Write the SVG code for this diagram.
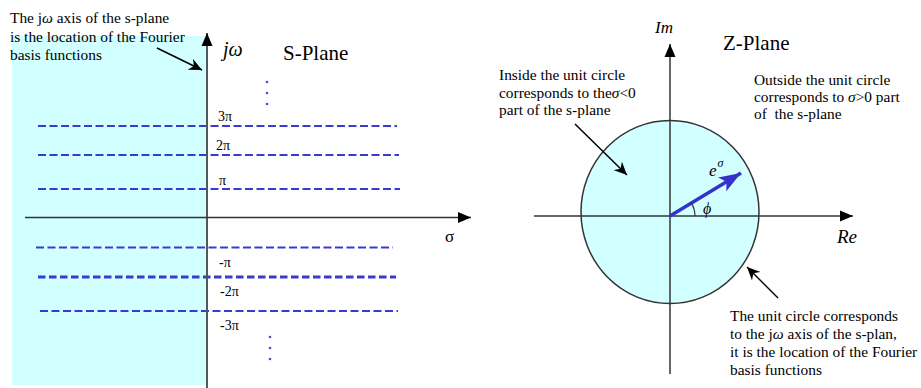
<svg xmlns="http://www.w3.org/2000/svg" width="921" height="388" viewBox="0 0 921 388">
<style>
.t{font-family:"Liberation Serif","Times New Roman",serif;font-size:15.4px;fill:#000}
.i{font-style:italic}
.ax{stroke:#333;stroke-width:1.5;fill:none}
.d{stroke:#3a3ad0;stroke-width:2;stroke-dasharray:8 3.5;fill:none}
.dot{fill:#5050d0}
</style>
<defs>
<marker id="ah" markerUnits="userSpaceOnUse" markerWidth="14" markerHeight="12" refX="13" refY="6" orient="auto"><path d="M0,0.5 L13,6 L0,11.5 Z" fill="#000"/></marker>
<marker id="an" markerUnits="userSpaceOnUse" markerWidth="14" markerHeight="12" refX="13" refY="6" orient="auto"><path d="M0,0 L13,6 L0,12 L4,6 Z" fill="#000"/></marker>
<marker id="bh" markerUnits="userSpaceOnUse" markerWidth="24" markerHeight="18" refX="22" refY="9" orient="auto"><path d="M0,1 L22,9 L0,17 L5,9 Z" fill="#3333cc"/></marker>
</defs>
<g id="s-plane">
<rect x="12" y="36" width="195" height="349" fill="#d2ffff"/>
<g id="grid-lines">
<line class="d" x1="38" y1="126" x2="397" y2="126"/>
<line class="d" x1="38" y1="155" x2="399" y2="155"/>
<line class="d" x1="38" y1="189" x2="400" y2="189"/>
<line class="d" x1="36" y1="247.5" x2="393" y2="247.5"/>
<line class="d" x1="38" y1="277" x2="396" y2="277" style="stroke-width:3;stroke-dasharray:7.5 3.5"/>
<line class="d" x1="40" y1="311" x2="398" y2="311"/>
</g>
<line x1="207" y1="388" x2="207" y2="33" stroke="#4f5a5a" stroke-width="2" marker-end="url(#ah)"/>
<line class="ax" x1="25" y1="217.5" x2="471" y2="217.5" marker-end="url(#ah)"/>
<text class="t i" x="223" y="56" style="font-size:20px">jω</text>
<text class="t" x="283" y="60" style="font-size:21px">S-Plane</text>
<text class="t" x="445" y="242" style="font-size:17px">σ</text>
<text class="t" x="218" y="121" style="font-size:14px">3π</text>
<text class="t" x="216" y="150" style="font-size:14px">2π</text>
<text class="t" x="219" y="185" style="font-size:14px">π</text>
<text class="t" x="219" y="267" style="font-size:14px">-π</text>
<text class="t" x="220" y="296" style="font-size:14px">-2π</text>
<text class="t" x="220" y="330" style="font-size:14px">-3π</text>
<circle class="dot" cx="267" cy="82" r="1.3"/>
<circle class="dot" cx="267" cy="93" r="1.3"/>
<circle class="dot" cx="267" cy="104" r="1.3"/>
<circle class="dot" cx="270" cy="337" r="1.3"/>
<circle class="dot" cx="270" cy="348" r="1.3"/>
<circle class="dot" cx="270" cy="359" r="1.3"/>
</g>
<g id="note-s-axis">
<text class="t" x="10" y="23">The j<tspan class="i">ω</tspan> axis of the s-plane</text>
<text class="t" x="10" y="42">is the location of the Fourier</text>
<text class="t" x="10" y="60">basis functions</text>
</g>
<g id="z-plane">
<ellipse cx="670" cy="212" rx="89" ry="91.5" fill="#d2ffff" stroke="#333" stroke-width="1.5"/>
<line class="ax" x1="670" y1="374" x2="670" y2="44" marker-end="url(#ah)"/>
<line class="ax" x1="534" y1="216" x2="853" y2="216" marker-end="url(#ah)"/>
<text class="t i" x="655" y="33" style="font-size:17px">Im</text>
<text class="t i" x="837" y="243" style="font-size:19px">Re</text>
<text class="t" x="723" y="50" style="font-size:21px">Z-Plane</text>
<line x1="670" y1="216" x2="741" y2="173" stroke="#3333cc" stroke-width="3.5" marker-end="url(#bh)"/>
<path d="M695,216 A25,25 0 0 0 691.4,203.1" fill="none" stroke="#333" stroke-width="1.2"/>
<text class="t i" x="709" y="176" style="font-size:17px">e</text>
<text class="t i" x="717.5" y="167" style="font-size:12px">σ</text>
<text class="t i" x="703" y="214" style="font-size:16px">ϕ</text>
</g>
<g id="note-inside">
<text class="t" x="499" y="80">Inside the unit circle</text>
<text class="t" x="499" y="98">corresponds to the<tspan class="i">σ</tspan>&lt;0</text>
<text class="t" x="499" y="115">part of the s-plane</text>
</g>
<g id="note-outside">
<text class="t" x="754" y="85">Outside the unit circle</text>
<text class="t" x="754" y="102">corresponds to <tspan class="i">σ</tspan>&gt;0 part</text>
<text class="t" x="754" y="119" xml:space="preserve">of  the s-plane</text>
</g>
<g id="note-circle">
<text class="t" x="730" y="321">The unit circle corresponds</text>
<text class="t" x="730" y="339">to the j<tspan class="i">ω</tspan> axis of the s-plan,</text>
<text class="t" x="730" y="357">it is the location of the Fourier</text>
<text class="t" x="730" y="375">basis functions</text>
</g>
<g id="connectors" stroke="#000" stroke-width="1.5" fill="none">
<line x1="157" y1="48" x2="202" y2="70" marker-end="url(#an)"/>
<line x1="575" y1="124" x2="627" y2="175" marker-end="url(#an)"/>
<line x1="778" y1="298" x2="747" y2="267" marker-end="url(#an)"/>
</g>
</svg>
